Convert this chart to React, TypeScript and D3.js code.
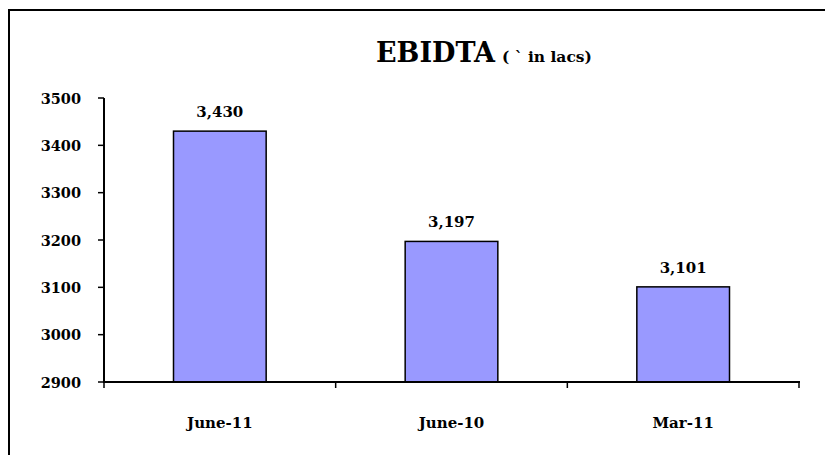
import React from "react";
import * as d3 from "d3";

const categories = ["June-11", "June-10", "Mar-11"];
const values = [3430, 3197, 3101];
const yTicks = [2900, 3000, 3100, 3200, 3300, 3400, 3500];
const titleMain = "EBIDTA";
const titleSub = "( ` in lacs)";

const W = 825;
const H = 455;
const FONT = "'DejaVu Serif', serif";

export default function App() {
  const x = d3.scaleBand<string>().domain(categories).range([104, 799]).paddingInner(0).paddingOuter(0);
  const y = d3.scaleLinear().domain([2900, 3500]).range([382, 98]);
  const barW = x.bandwidth() * 0.4;
  const fmt = d3.format(",");
  const boundaries = [...categories.map((c) => x(c) as number), 799];

  return (
    <svg width={W} height={H} style={{ position: "absolute", left: 0, top: 0, background: "#fff" }}>
      <rect x={9} y={10} width={900} height={600} fill="#fff" stroke="#000" strokeWidth={2} />
      <text x={376} y={62} fontFamily={FONT} fontWeight="bold" fill="#000">
        <tspan fontSize={27}>{titleMain}</tspan>
        <tspan fontSize={15.5} dx={7}>{titleSub}</tspan>
      </text>
      {categories.map((c, i) => {
        const cx = (x(c) as number) + x.bandwidth() / 2;
        return (
          <g key={c}>
            <rect x={cx - barW / 2} y={y(values[i])} width={barW} height={y(2900) - y(values[i])} fill="#9999FF" stroke="#000" strokeWidth={1.5} />
            <text x={cx} y={y(values[i]) - 14} textAnchor="middle" fontFamily={FONT} fontWeight="bold" fontSize={15} fill="#000">
              {fmt(values[i])}
            </text>
            <text x={cx} y={428} textAnchor="middle" fontFamily={FONT} fontWeight="bold" fontSize={15} fill="#000">
              {c}
            </text>
          </g>
        );
      })}
      <line x1={104} x2={104} y1={98} y2={382} stroke="#000" strokeWidth={2} />
      <line x1={103} x2={800} y1={382} y2={382} stroke="#000" strokeWidth={2} />
      {yTicks.map((t) => (
        <g key={t}>
          <line x1={98} x2={104} y1={y(t)} y2={y(t)} stroke="#000" strokeWidth={1.5} />
          <text x={81} y={y(t) + 5.5} textAnchor="end" fontFamily={FONT} fontWeight="bold" fontSize={14.5} fill="#000">
            {t}
          </text>
        </g>
      ))}
      {boundaries.map((b, i) => (
        <line key={i} x1={b} x2={b} y1={382} y2={388} stroke="#000" strokeWidth={1.5} />
      ))}
    </svg>
  );
}
